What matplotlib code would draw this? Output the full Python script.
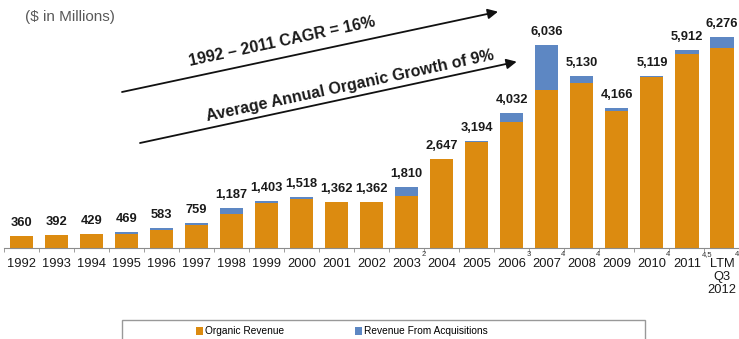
import numpy as np
import matplotlib.pyplot as plt
from matplotlib.patches import Rectangle, FancyArrowPatch

plt.rcParams['font.family'] = ['Liberation Sans', 'DejaVu Sans']

years = ['1992', '1993', '1994', '1995', '1996', '1997', '1998', '1999', '2000',
         '2001', '2002', '2003', '2004', '2005', '2006', '2007', '2008', '2009',
         '2010', '2011', 'LTM\nQ3\n2012']
notes = ['', '', '', '', '', '', '', '', '', '', '', '2', '', '', '3', '4', '4',
         '', '4', '4,5', '4']
total = [360, 392, 429, 469, 583, 759, 1187, 1403, 1518, 1362, 1362, 1810,
         2647, 3194, 4032, 6036, 5130, 4166, 5119, 5912, 6276]
acquired = [0, 0, 0, 40, 40, 80, 180, 55, 50, 0, 0, 270,
            0, 40, 270, 1340, 220, 70, 30, 140, 320]
organic = [t - a for t, a in zip(total, acquired)]

ORANGE = '#dc8b10'
BLUE = '#5d87c3'
W, H = 739, 339


def fpix(x, y):
    # pixel position (from top-left) -> figure fraction
    return x / W, 1 - y / H


fig = plt.figure(figsize=(W / 100, H / 100), dpi=100)
ax = fig.add_axes([3.8 / W, (H - 248) / H, (739.5 - 3.8) / W, 248 / H])

x = np.arange(len(years))
b1 = ax.bar(x, organic, width=0.66, color=ORANGE, label='Organic Revenue')
b2 = ax.bar(x, acquired, width=0.66, bottom=organic, color=BLUE,
            label='Revenue From Acquisitions')

for xi, t in zip(x, total):
    ax.annotate(f'{t:,}', xy=(xi, t), xytext=(0, 5), textcoords='offset points',
                ha='center', va='bottom', fontsize=9.3, fontweight='bold',
                color='#1a1a1a')

ax.set_xlim(-0.5, len(years) - 0.5)
ax.set_ylim(0, 7390)
for s in ['top', 'right', 'left']:
    ax.spines[s].set_visible(False)
ax.spines['bottom'].set_color('#8c8c8c')
ax.set_yticks([])
ax.set_xticks(x)
ax.set_xticklabels(years, fontsize=9.3, color='#1a1a1a', linespacing=1.15)
ax.set_xticks(np.arange(-0.5, len(years), 1), minor=True)
ax.tick_params(axis='x', which='major', length=0, pad=7)
ax.tick_params(axis='x', which='minor', length=3, color='#8c8c8c')

# footnote markers after the year labels
for xi, n in zip(x, notes):
    if n:
        dx = 10.4
        if xi == len(years) - 1:
            dx = 9.0
        ax.annotate(n, xy=(xi, 0), xycoords=ax.get_xaxis_transform(),
                    xytext=(dx, -4.8), textcoords='offset points',
                    ha='left', va='center', fontsize=5.5, color='#333333')

fig.text(*fpix(25, 17.5), '($ in Millions)', fontsize=11, color='#595959',
         ha='left', va='center')

# growth arrows
for (x0, y0, x1, y1) in [(122, 92, 498, 11.7), (140, 143, 516.7, 61.7)]:
    arr = FancyArrowPatch(fpix(x0, y0), fpix(x1, y1), transform=fig.transFigure,
                          arrowstyle='-|>', mutation_scale=15, lw=1.3,
                          color='#111111', shrinkA=0, shrinkB=0)
    fig.add_artist(arr)

fig.text(*fpix(282, 42), '1992 \u2013 2011 CAGR = 16%', rotation=12.1,
         rotation_mode='anchor', ha='center', va='center', fontsize=11.5,
         fontweight='bold', color='#1a1a1a')
fig.text(*fpix(350, 86), 'Average Annual Organic Growth of 9%', rotation=12.1,
         rotation_mode='anchor', ha='center', va='center', fontsize=11.5,
         fontweight='bold', color='#1a1a1a')

# legend box
lx0, ly0 = fpix(122, 320)
lx1, _ = fpix(645, 320)
fig.add_artist(Rectangle((lx0, -0.02), lx1 - lx0, ly0 + 0.02,
                         transform=fig.transFigure, fill=False,
                         edgecolor='#999999', lw=1))
fig.legend(handles=[b1, b2], loc='center', bbox_to_anchor=fpix(342, 331.5),
           ncol=2, frameon=False, fontsize=7.3, handlelength=0.7,
           handleheight=0.7, handletextpad=0.2, columnspacing=7.0)

fig.savefig('out.png', dpi=100)
